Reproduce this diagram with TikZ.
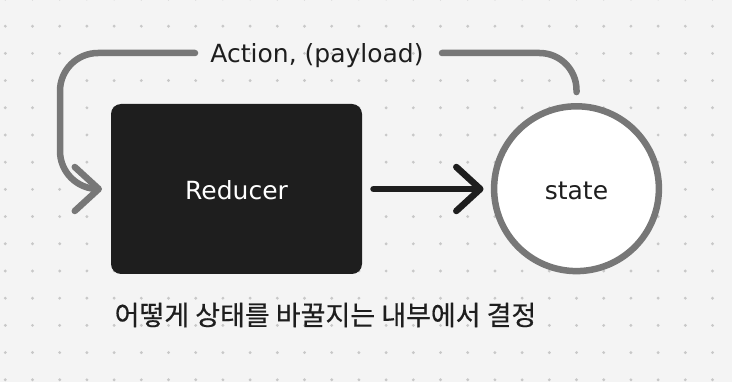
\documentclass[tikz,border=0pt]{standalone}
\usepackage{fontspec}
\setmainfont{DejaVu Sans}
\newfontfamily\krfont[FakeBold=0.5]{Noto Sans CJK KR}
\usetikzlibrary{arrows.meta}
\definecolor{bg}{HTML}{F4F4F4}
\definecolor{dotc}{HTML}{C8C8C8}
\definecolor{ink}{HTML}{1E1E1E}
\definecolor{greyline}{HTML}{777777}
\begin{document}
\begin{tikzpicture}[x=1pt,y=-1pt,
  lbl/.style={font=\fontsize{25}{30}\selectfont, inner sep=0pt},
  flow/.style={line width=6.5pt, line cap=round, line join=round},
  chev/.style={-{Straight Barb[length=24pt,width=44pt,round]}}]
\fill[bg] (0,0) rectangle (732,382);
\useasboundingbox (0,0) rectangle (732,382);
\foreach \i in {0,...,26} \foreach \j in {0,...,14} \fill[dotc] (5.3+27.2*\i, -1+27.2*\j) circle[radius=1.6pt];
\node[fill=ink, rounded corners=10pt, minimum width=251pt, minimum height=170pt, outer sep=0pt, lbl, text=white, text height=20.6pt, text depth=0pt] (reducer) at (236.5,189) {Reducer};
\node[circle, draw=greyline, line width=6.5pt, fill=white, minimum size=164.8pt, inner sep=0pt, outer sep=3.25pt, lbl, text=ink, text height=22.6pt, text depth=0pt] (state) at (576.5,188.7) {state};
\node[lbl, text=ink, anchor=base] (action) at (317,63) {Action, (payload)};
\coordinate (aR) at (442,53);
\coordinate (aL) at (195,53);
\coordinate (lc) at (60,189);
\draw[flow, greyline, rounded corners=37pt, shorten <=11pt] (state.north) |- (aR);
\draw[flow, greyline, chev, rounded corners=38pt, shorten >=9pt] (aL) -| (lc) -- (reducer.west);
\draw[flow, ink, chev, shorten <=11.5pt, shorten >=7.3pt] (reducer.east) -- (reducer.east -| state.west);
\node[font=\krfont\fontsize{27}{32}\selectfont, text=ink, inner sep=0pt] (note) at (325.5,315) {어떻게 상태를 바꿀지는 내부에서 결정};
\end{tikzpicture}
\end{document}
